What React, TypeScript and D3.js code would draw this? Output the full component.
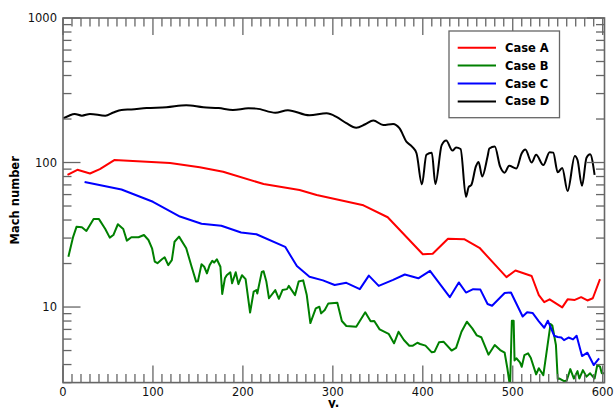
import React from "react";
import * as d3 from "d3";

const caseAX = [5, 16, 30, 41, 57, 119, 152, 178, 223, 263, 282, 334, 361, 400, 411, 428, 446, 463, 493, 503, 521, 529, 535, 541, 555, 561, 569, 576, 583, 589, 597];
const caseAY = [82, 89, 84, 90, 104, 99.4, 92.7, 86.4, 71, 64.5, 59.6, 50.6, 41.8, 23.2, 23.4, 29.7, 29.5, 25.7, 16.1, 17.9, 16.4, 12.1, 10.8, 11.3, 9.95, 11.3, 11.2, 11.7, 11.1, 11.5, 15.6];

const caseBX = [6, 11, 15, 21, 26, 34, 40, 47, 52, 56, 61, 67, 71, 76, 84, 90, 95, 99, 102, 105, 110, 113, 117, 121, 124, 129, 137, 143, 148, 150, 154, 157, 160, 163, 166, 168, 171, 175, 177, 180, 182, 186, 188, 192, 195, 199, 203, 208, 212, 215, 216, 221, 223, 226, 229, 236, 240, 244, 249, 251, 258, 262, 267, 271, 275, 281, 285, 287, 291, 295, 305, 310, 315, 326, 336, 342, 346, 352, 362, 368, 373, 379, 385, 389, 394, 397, 403, 410, 413, 418, 423, 432, 437, 443, 449, 455, 460, 465, 473, 480, 486, 491, 494, 497, 499, 501, 502, 504, 508, 510, 513, 517, 520, 526, 529, 534, 542, 544, 548, 550, 552, 557, 560, 564, 568, 572, 574, 578, 582, 586, 591, 594, 597, 599, 602];
const caseBY = [22.3, 30.2, 35.9, 35.6, 33.6, 40.6, 40.6, 34.7, 30.2, 31.5, 37.4, 34.7, 28.8, 30.4, 30.4, 31.5, 29.1, 25.5, 20.6, 20.1, 21.4, 22.1, 19.5, 21.1, 28.3, 30.7, 25.5, 19.0, 15.0, 15.1, 19.8, 19.0, 17.1, 19.5, 20.9, 20.3, 21.4, 19.0, 12.3, 15.8, 16.6, 17.4, 14.6, 17.4, 14.4, 16.6, 15.6, 9.16, 12.8, 13.1, 12.4, 17.5, 17.7, 15.1, 11.5, 13.1, 11.4, 13.1, 13.3, 14.0, 12.1, 15.0, 15.3, 12.1, 7.74, 9.8, 10.05, 9.04, 9.53, 10.6, 10.7, 8.0, 7.39, 7.31, 9.19, 7.96, 8.0, 7.01, 6.53, 5.61, 6.74, 5.91, 5.4, 5.4, 5.66, 5.55, 5.41, 4.86, 4.9, 5.7, 5.76, 5.0, 5.22, 6.74, 7.91, 7.12, 6.37, 6.18, 4.68, 5.46, 5.04, 4.83, 3.77, 2.8, 8.04, 8.04, 4.27, 4.42, 4.14, 3.86, 4.65, 4.78, 4.46, 3.42, 3.77, 3.38, 7.62, 7.45, 5.46, 3.18, 3.2, 3.07, 3.1, 3.72, 3.2, 3.6, 3.2, 3.66, 3.3, 3.48, 3.2, 3.97, 3.87, 3.48, 3.48];

const caseCX = [24, 65, 100, 130, 154, 176, 198, 215, 247, 260, 274, 289, 302, 315, 330, 340, 351, 367, 380, 395, 408, 430, 440, 448, 456, 464, 472, 477, 491, 498, 511, 516, 522, 529, 535, 539, 546, 550, 554, 557, 562, 567, 571, 577, 583, 590, 596];
const caseCY = [73.3, 65, 53.5, 42.3, 37.7, 36.5, 32.8, 31.9, 26.1, 19.2, 16.2, 15.3, 14.2, 14.7, 13.3, 16.5, 14.0, 15.4, 16.8, 15.8, 17.8, 11.7, 14.8, 12.6, 13.3, 13.2, 10.5, 10.2, 12.5, 12.6, 8.6, 9.2, 9.1, 7.96, 7.19, 8.04, 6.33, 6.2, 6.15, 5.9, 6.15, 5.97, 6.33, 4.58, 4.83, 3.97, 4.42];

const caseDX = [0, 6, 13, 21, 30, 47, 56, 65, 76, 93, 115, 137, 156, 173, 189, 206, 215, 236, 250, 274, 293, 304, 315, 326, 336, 345, 356, 367, 374, 382, 388, 393, 399, 404, 410, 414, 421, 426, 433, 437, 442, 448, 451, 454, 459, 462, 466, 472, 474, 480, 486, 491, 496, 504, 510, 514, 521, 526, 534, 541, 545, 550, 555, 561, 569, 572, 577, 582, 586, 591];
const caseDY = [202, 210, 217, 211, 217, 211, 222, 231, 233, 238, 241, 249, 241, 238, 231, 237, 236, 221, 230, 212, 219, 207, 187, 174, 184, 195, 182, 185, 173, 139, 129, 116, 70.6, 113, 117, 71, 132, 142, 121, 127, 124, 58, 67.7, 70, 94, 101, 80, 110, 125, 129, 93.5, 85, 95, 91, 116, 123, 100, 113, 96, 118, 117, 85.5, 91.6, 63.5, 111, 104, 69, 108, 114, 82];

const seriesNames = ["Case A", "Case B", "Case C", "Case D"];
const seriesColors = ["#ff0000", "#008000", "#0000ff", "#000000"];
const xTickLabels = [0, 100, 200, 300, 400, 500, 600];
const yTickLabels = [10, 100, 1000];

const W = 616;
const H = 408;
const L = 63, R = 604.5, T = 18, B = 382.6;

export default function App() {
  const x = d3.scaleLinear().domain([0, 602]).range([L, R]);
  const y = d3.scaleLog().domain([3, 1000]).range([B, T]);

  const series = [
    { xs: caseAX, ys: caseAY },
    { xs: caseBX, ys: caseBY },
    { xs: caseCX, ys: caseCY },
    { xs: caseDX, ys: caseDY },
  ];
  const mkLine = (smooth: boolean) =>
    d3
      .line<[number, number]>()
      .x((d) => x(d[0]))
      .y((d) => y(d[1]))
      .curve(smooth ? d3.curveMonotoneX : d3.curveLinear);

  const axisColor = "#666";
  const font = "DejaVu Sans, sans-serif";
  const minorX = d3.range(0, 601, 10);
  const yTicks = y.ticks();
  const isMajorY = (v: number) => Math.abs(Math.log10(v) - Math.round(Math.log10(v))) < 1e-9;

  const legX = 449, legY = 31, legW = 110.5, legH = 86.7;

  return (
    <svg
      width={W}
      height={H}
      style={{ position: "fixed", left: 0, top: 0, display: "block", background: "#fff" }}
      fontFamily={font}
    >
      <defs>
        <clipPath id="plotclip">
          <rect x={L} y={T} width={R - L} height={B - T} />
        </clipPath>
      </defs>
      <rect x={0} y={0} width={W} height={H} fill="#fff" />

      <g clipPath="url(#plotclip)">
        {series.map((s, i) => (
          <path
            key={i}
            d={mkLine(i === 3)(s.xs.map((v, k) => [v, s.ys[k]] as [number, number])) || ""}
            fill="none"
            stroke={seriesColors[i]}
            strokeWidth={2}
            strokeLinejoin="round"
          />
        ))}
      </g>

      {/* ticks */}
      <g stroke={axisColor} strokeWidth={1.3}>
        {minorX.map((v) => {
          const major = v % 100 === 0;
          const len = major ? 17 : 8.5;
          return (
            <g key={"xt" + v}>
              <line x1={x(v)} x2={x(v)} y1={B} y2={B - len} />
              <line x1={x(v)} x2={x(v)} y1={T} y2={T + len} />
            </g>
          );
        })}
        {yTicks.map((v) => {
          const len = isMajorY(v) ? 17.5 : 8.5;
          return (
            <g key={"yt" + v}>
              <line x1={L} x2={L + len} y1={y(v)} y2={y(v)} />
              <line x1={R} x2={R - len} y1={y(v)} y2={y(v)} />
            </g>
          );
        })}
      </g>

      <rect x={L} y={T} width={R - L} height={B - T} fill="none" stroke={axisColor} strokeWidth={1.6} />

      {/* tick labels */}
      <g fontSize={11.5} fill="#111">
        {xTickLabels.map((v) => (
          <text key={"xl" + v} x={x(v)} y={396} textAnchor="middle">
            {v}
          </text>
        ))}
        {yTickLabels.map((v) => (
          <text key={"yl" + v} x={57} y={y(v)} textAnchor="end" dominantBaseline="central">
            {v}
          </text>
        ))}
      </g>

      <text
        transform={`translate(19,${(T + B) / 2}) rotate(-90)`}
        textAnchor="middle"
        fontSize={11.5}
        fontWeight="bold"
        fill="#000"
      >
        Mach number
      </text>
      <text x={(L + R) / 2} y={407} textAnchor="middle" fontSize={12} fontWeight="bold" fill="#000">
        y.
      </text>

      {/* legend */}
      <rect x={legX} y={legY} width={legW} height={legH} fill="#fff" stroke={axisColor} strokeWidth={1.3} />
      {seriesNames.map((n, i) => {
        const cy = 47.7 + i * 17.9;
        return (
          <g key={n}>
            <line x1={457.7} x2={496} y1={cy} y2={cy} stroke={seriesColors[i]} strokeWidth={2} />
            <text x={505} y={cy} dominantBaseline="central" fontSize={11.5} fontWeight="bold" fill="#000">
              {n}
            </text>
          </g>
        );
      })}
    </svg>
  );
}
